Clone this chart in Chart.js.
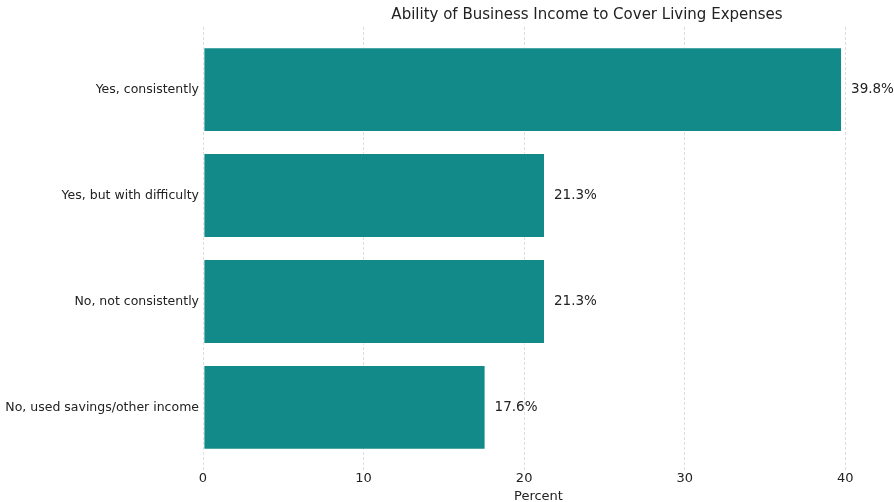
<!DOCTYPE html>
<html>
<head>
<meta charset="utf-8">
<script src="https://cdn.jsdelivr.net/npm/chart.js@4"></script>
<style>
  html, body { margin: 0; padding: 0; background: #fff; }
  #wrap { width: 894px; height: 502px; position: relative; }
</style>
</head>
<body>
<div id="wrap"><canvas id="income-chart"></canvas></div>
<script>
const answers = [
    'Yes, consistently',
    'Yes, but with difficulty',
    'No, not consistently',
    'No, used savings/other income'
];
const percents = [39.8, 21.3, 21.3, 17.6];
const xTicks = [0, 10, 20, 30, 40];

const FONT = "'DejaVu Sans', sans-serif";
const barColor = '#128a8a';

// percentage text at the end of each bar
const valueLabels = {
    id: 'valueLabels',
    afterDatasetsDraw(chart) {
        const ctx = chart.ctx;
        const meta = chart.getDatasetMeta(0);
        ctx.save();
        ctx.font = '13.5px ' + FONT;
        ctx.fillStyle = '#222';
        ctx.textAlign = 'left';
        ctx.textBaseline = 'middle';
        meta.data.forEach((bar, i) => {
            ctx.fillText(percents[i].toFixed(1) + '%', bar.x + 9, bar.y);
        });
        ctx.restore();
    }
};

const chartTitle = {
    id: 'chartTitle',
    afterDraw(chart) {
        const ctx = chart.ctx;
        ctx.save();
        ctx.font = '15px ' + FONT;
        ctx.fillStyle = '#222';
        ctx.textAlign = 'center';
        ctx.textBaseline = 'middle';
        ctx.fillText('Ability of Business Income to Cover Living Expenses', 587, 15);
        ctx.restore();
    }
};

const ctx = document.getElementById('income-chart').getContext('2d');
const incomeChart = new Chart(ctx, {
    type: 'bar',
    data: {
        datasets: [{
            label: 'Percent',
            data: percents.map((v, i) => ({ x: v, y: i })),
            backgroundColor: barColor,
            borderColor: 'rgba(255,255,255,0.5)',
            borderWidth: 1,
            borderSkipped: false,
            barPercentage: 0.8,
            categoryPercentage: 1.0
        }]
    },
    options: {
        indexAxis: 'y',
        responsive: true,
        maintainAspectRatio: false,
        animation: false,
        layout: { padding: { top: 27, right: 20, left: 0, bottom: 0 } },
        plugins: {
            legend: { display: false },
            tooltip: { enabled: false }
        },
        scales: {
            x: {
                type: 'linear',
                min: 0,
                max: 41.79,
                afterBuildTicks: scale => { scale.ticks = xTicks.map(v => ({ value: v })); },
                afterFit: scale => { scale.height = 32; },
                grid: {
                    color: '#d4d4d4',
                    lineWidth: 0.8,
                    drawTicks: false
                },
                border: { display: false, dash: [3, 2] },
                ticks: {
                    padding: 1,
                    color: '#222',
                    font: { family: FONT, size: 13 }
                },
                title: {
                    display: true,
                    text: 'Percent',
                    color: '#222',
                    padding: { top: 0, bottom: -2 },
                    font: { family: FONT, size: 13 }
                }
            },
            y: {
                type: 'linear',
                reverse: true,
                offset: false,
                min: -0.59,
                max: 3.59,
                afterBuildTicks: scale => { scale.ticks = answers.map((a, i) => ({ value: i })); },
                afterFit: scale => { scale.width = 203; },
                grid: { display: false, drawTicks: false, offset: false },
                border: { display: false },
                ticks: {
                    padding: 4,
                    color: '#222',
                    font: { family: FONT, size: 12.5 },
                    callback: v => answers[v]
                }
            }
        }
    },
    plugins: [valueLabels, chartTitle]
});
</script>
</body>
</html>
